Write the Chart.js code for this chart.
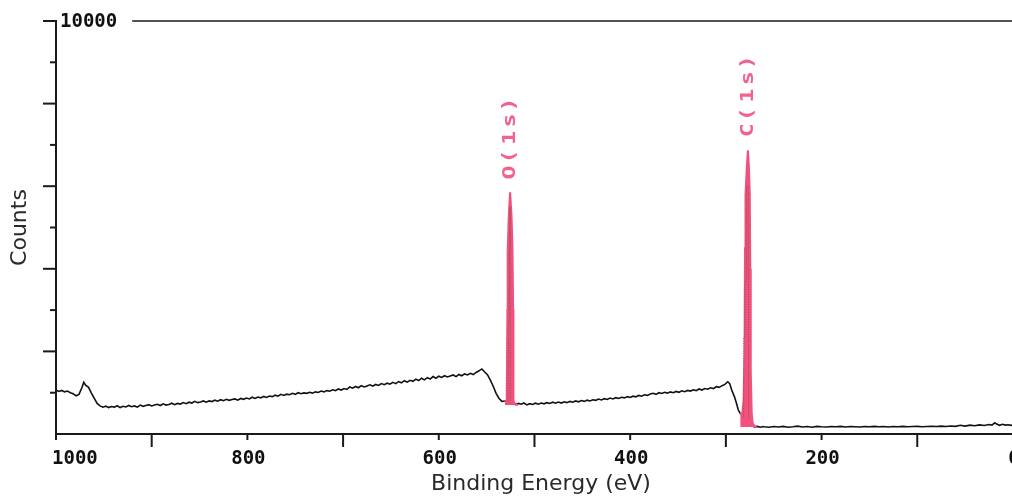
<!DOCTYPE html>
<html><head><meta charset="utf-8">
<script src="https://cdn.jsdelivr.net/npm/chart.js@4.4.1/dist/chart.umd.min.js"></script>
<style>html,body{margin:0;padding:0;background:#fff;overflow:hidden}canvas{display:block}</style>
</head><body><canvas id="c" width="1012" height="497"></canvas>
<script>
// Survey spectrum: [binding energy (eV), counts]
const survey = [
[1000,1065],[997,1030],[994,1055],[991,1020],[988,1040],[985,1000],[982,975],[979,925],[976,960],[973,1120],
[971,1250],[969,1180],[966,1130],[963,990],[960,860],[957,740],[954,680],[951,650],[948,675],[945,640],
[942,665],[939,650],[936,685],[933,640],[930,670],[927,655],[924,690],[921,660],[918,680],[915,650],
[912,700],[909,670],[906,690],[903,710],[900,680],[897,700],[894,720],[891,690],[888,730],[885,700],
[882,715],[879,745],[876,710],[873,740],[870,725],[867,760],[864,735],[861,770],[858,750],[855,790],
[852,760],[849,775],[846,800],[843,770],[840,800],[837,785],[834,820],[831,795],[828,830],[825,805],
[822,840],[819,815],[816,835],[813,850],[810,820],[807,860],[804,840],[801,870],[798,850],[795,890],
[792,860],[789,895],[786,875],[783,910],[780,885],[777,920],[774,905],[771,940],[768,915],[765,960],
[762,935],[759,965],[756,950],[753,985],[750,960],[747,1000],[744,975],[741,995],[738,985],[735,1010],
[732,990],[729,1020],[726,1005],[723,1040],[720,1020],[717,1050],[714,1035],[711,1070],[708,1050],[705,1090],
[702,1065],[699,1100],[696,1080],[693,1140],[690,1110],[687,1150],[684,1120],[681,1170],[678,1140],[675,1165],
[672,1190],[669,1160],[666,1200],[663,1175],[660,1220],[657,1195],[654,1230],[651,1205],[648,1250],[645,1220],
[642,1270],[639,1240],[636,1290],[633,1255],[630,1300],[627,1275],[624,1330],[621,1295],[618,1350],[615,1310],
[612,1365],[609,1330],[606,1390],[603,1350],[600,1400],[597,1370],[594,1410],[591,1380],[588,1405],[585,1430],
[582,1390],[579,1440],[576,1410],[573,1455],[570,1430],[567,1470],[564,1440],[561,1490],[558,1530],[555,1575],
[552,1500],[549,1430],[546,1300],[543,1150],[540,980],[537,860],[534,790],[531,800],[528,820],[524,760],
[520,710],[517,740],[514,720],[511,750],[508,705],[505,735],[502,715],[499,745],[496,720],[493,750],
[490,730],[487,760],[484,740],[481,770],[478,745],[475,775],[472,750],[469,780],[466,760],[463,790],
[460,770],[457,800],[454,780],[451,810],[448,790],[445,820],[442,800],[439,830],[436,815],[433,845],
[430,825],[427,855],[424,835],[421,870],[418,850],[415,880],[412,860],[409,890],[406,875],[403,905],
[400,885],[397,915],[394,900],[391,935],[388,915],[385,950],[382,935],[379,970],[376,985],[373,960],
[370,1000],[367,980],[364,1010],[361,990],[358,1020],[355,1000],[352,1030],[349,1010],[346,1045],[343,1025],
[340,1055],[337,1040],[334,1070],[331,1050],[328,1090],[325,1065],[322,1100],[319,1085],[316,1120],[313,1100],
[310,1145],[307,1130],[304,1170],[301,1200],[298,1265],[296,1220],[294,1070],[291,900],[289,750],[287,580],
[285,500],[283,450],[281,390],[279,330],[276,250],[273,200],[270,170],[267,185],[264,165],[261,180],
[260,175],[255,165],[250,180],[245,170],[240,185],[235,165],[230,175],[225,190],[220,170],[215,180],
[210,165],[205,185],[200,175],[195,170],[190,180],[185,175],[180,185],[175,170],[170,180],[165,175],
[160,170],[155,180],[150,175],[145,185],[140,175],[135,180],[130,170],[125,180],[120,175],[115,185],
[110,175],[105,180],[100,185],[95,175],[90,180],[85,185],[80,180],[75,190],[70,180],[65,195],
[60,185],[55,210],[50,190],[45,215],[40,200],[35,220],[30,205],[25,230],[22,215],[19,270],
[17,240],[14,210],[11,235],[8,215],[5,225],[2,210],[0,220]
];
// Highlighted photoelectron peaks
const o1sPeak = [[531,790],[529,800],[528.3,3000],[528,4400],[527,5200],[525.5,5850],[524,5300],[523,4500],[522.3,3000],[522,800],[520,720],[517,700]];
const c1sPeak = [[285,500],[283,460],[281.5,800],[280.5,2000],[280,4500],[279.5,5800],[278,6500],[277,6870],[276,6500],[275,5800],[274.5,4000],[274,1500],[273,500],[272,260],[270,190],[268,175]];
const o1sFit = [[527.6,790],[527.3,2700],[526.6,2750],[526.4,4400],[525.7,4500],[525.5,5500],[525.3,760]];
const c1sFit = [[281.5,420],[281.3,2350],[280.3,2350],[280.1,3700],[278.6,3700],[278.4,6000],[276.6,6000],[276.3,350]];
const o1sBase = 700;
const c1sBase = 170;
// Axes
const xTickValues = [1000,900,800,700,600,500,400,300,200,100,0];
const xTickLabels = ['1000','','800','','600','','400','','200','','0'];
const yTickValues = [1000,2000,3000,4000,5000,6000,7000,8000,9000,10000];
const yTopLabel = '10000';
const peakLabels = [{text:'O(1s)', energy:525.5, counts:5850},{text:'C(1s)', energy:277, counts:6870}];
const xTitle = 'Binding Energy (eV)';
const yTitle = 'Counts';

const PINK = '#f3507f';
const toXY = arr => arr.map(p => ({x:p[0], y:p[1]}));

const axesPlugin = {
  id:'xpsAxes',
  afterDraw(chart){
    const {ctx, scales:{x, y}} = chart;
    const W = chart.width;
    const left = x.getPixelForValue(1000);
    const yb = y.getPixelForValue(0);
    const yt = y.getPixelForValue(10000);
    ctx.save();
    ctx.strokeStyle = '#1a1a1a';
    ctx.lineWidth = 2;
    const line = (x1,y1,x2,y2) => { ctx.beginPath(); ctx.moveTo(x1,y1); ctx.lineTo(x2,y2); ctx.stroke(); };
    line(left, yt-1, left, yb+1);
    line(left-1, yb, W, yb);
    yTickValues.forEach(v => {
      const py = y.getPixelForValue(v);
      const len = (v % 2000 === 0) ? 13 : 6;
      line(left-len, py, left, py);
    });
    xTickValues.forEach(v => {
      const px = x.getPixelForValue(v);
      const len = (v % 200 === 0) ? 6 : 13;
      line(px, yb, px, yb+len);
    });
    ctx.fillStyle = '#111';
    ctx.font = 'bold 19px "DejaVu Sans Mono"';
    ctx.textBaseline = 'middle';
    xTickValues.forEach((v,i) => {
      const lab = xTickLabels[i];
      if (!lab) return;
      const px = x.getPixelForValue(v);
      if (v === 1000) { ctx.textAlign = 'left'; ctx.fillText(lab, px-4, yb+25); }
      else { ctx.textAlign = 'center'; ctx.fillText(lab, px+1, yb+25); }
    });
    ctx.textAlign = 'left';
    ctx.fillText(yTopLabel, left+4, yt+1);
    const tw = ctx.measureText(yTopLabel).width;
    ctx.lineWidth = 1.6;
    line(left+4+tw+15, yt, W, yt);
    // titles
    ctx.fillStyle = '#2a2a2a';
    ctx.font = '22px "DejaVu Sans"';
    ctx.textAlign = 'center';
    ctx.fillText(xTitle, (left+W)/2 + 7, 484);
    ctx.save();
    ctx.translate(20, (yt+yb)/2);
    ctx.rotate(-Math.PI/2);
    ctx.fillText(yTitle, 0, 0);
    ctx.restore();
    // peak labels
    const offs = [-20,-36,-54.5,-72,-88];
    ctx.fillStyle = '#f2628c';
    ctx.font = 'bold 18px "DejaVu Sans Mono"';
    peakLabels.forEach(pl => {
      const px = x.getPixelForValue(pl.energy);
      const py = y.getPixelForValue(pl.counts);
      pl.text.split('').forEach((ch,i) => {
        ctx.save();
        ctx.translate(px, py+offs[i]);
        ctx.rotate(-Math.PI/2);
        ctx.scale(1.3,1);
        ctx.textAlign='center'; ctx.textBaseline='middle';
        ctx.fillText(ch, 0, 0);
        ctx.restore();
      });
    });
    ctx.restore();
  }
};

new Chart(document.getElementById('c'), {
  type:'line',
  data:{datasets:[
    {label:'O1s fit', data:toXY(o1sFit), borderColor:'rgba(105,95,50,0.9)', borderWidth:1, borderDash:[1,1.5], pointRadius:0, fill:false, order:0, tension:0},
    {label:'C1s fit', data:toXY(c1sFit), borderColor:'rgba(105,95,50,0.9)', borderWidth:1, borderDash:[1,1.5], pointRadius:0, fill:false, order:0, tension:0},
    {label:'O(1s)', data:toXY(o1sPeak), borderColor:PINK, backgroundColor:PINK, borderWidth:2, pointRadius:0, fill:{value:o1sBase}, order:1, tension:0},
    {label:'C(1s)', data:toXY(c1sPeak), borderColor:PINK, backgroundColor:PINK, borderWidth:2, pointRadius:0, fill:{value:c1sBase}, order:1, tension:0},
    {label:'Survey', data:toXY(survey), borderColor:'#111', borderWidth:1.6, pointRadius:0, fill:false, order:2, tension:0}
  ]},
  options:{
    responsive:false, animation:false, devicePixelRatio:1,
    layout:{padding:{left:56, right:0, top:21, bottom:63}},
    scales:{
      x:{type:'linear', reverse:true, min:1, max:1000, display:false},
      y:{type:'linear', min:0, max:10000, display:false}
    },
    plugins:{legend:{display:false}, tooltip:{enabled:false}}
  },
  plugins:[axesPlugin]
});
</script>
</body></html>
